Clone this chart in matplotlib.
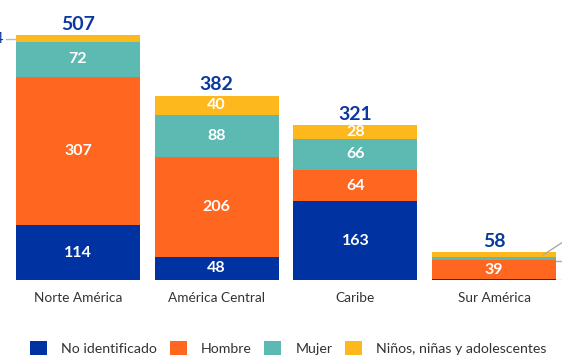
import numpy as np
import matplotlib.pyplot as plt
from matplotlib.patches import Patch

plt.rcParams['font.family'] = ['Lato', 'DejaVu Sans']

regiones = ['Norte América', 'América Central', 'Caribe', 'Sur América']
series = ['No identificado', 'Hombre', 'Mujer', 'Niños, niñas y adolescentes']
no_identificado = [114, 48, 163, 2]
hombre = [307, 206, 64, 39]
mujer = [72, 88, 66, 6]
ninos = [14, 40, 28, 11]
totales = [507, 382, 321, 58]

colores = ['#0033A1', '#FF6720', '#5DBAB2', '#FDB81E']
azul_txt = '#0A3A9E'

fig = plt.figure(figsize=(5.62, 3.55), dpi=100)
ax = fig.add_axes([0, 0.211, 1, 0.789])

x = np.arange(len(regiones))
ancho = 0.893
base = np.zeros(len(regiones))
for vals, col in zip([no_identificado, hombre, mujer, ninos], colores):
    vals = np.array(vals, dtype=float)
    ax.bar(x, vals, ancho, bottom=base, color=col, linewidth=0)
    for i, v in enumerate(vals):
        # small segments are labelled outside the bar
        if v >= 20:
            ax.text(x[i], base[i] + v / 2, f'{int(v)}', ha='center', va='center',
                    color='white', fontsize=11.5, fontweight='bold')
    base += vals

for i, t in enumerate(totales):
    ax.text(x[i], t + 5, str(t), ha='center', va='bottom', color=azul_txt,
            fontsize=14, fontweight='bold')

# leader lines for thin segments
y14 = no_identificado[0] + hombre[0] + mujer[0] + ninos[0] / 2
ax.plot([-0.522, -0.447], [y14, y14], color='#bbbbbb', lw=1, clip_on=False)
ax.text(-0.532, y14, str(ninos[0]), ha='right', va='center', color=azul_txt,
        fontsize=11.5, clip_on=False)

b = x[3] + ancho / 2
y_n = no_identificado[3] + hombre[3] + mujer[3] + ninos[3] / 2
y_m = no_identificado[3] + hombre[3] + mujer[3] / 2
y_h = no_identificado[3] / 2
ax.plot([b - 0.09, 3.49], [y_n, y_n + 25], color='#aaaaaa', lw=1)
ax.plot([b + 0.0, 3.49], [y_m - 4, y_m - 4], color='#aaaaaa', lw=1)
ax.plot([b + 0.0, 3.49], [y_h, y_h], color='#aaaaaa', lw=1)

ax.set_xlim(-0.562, 3.49)
ax.set_ylim(0, 579.7)
ax.axis('off')

for i, r in enumerate(regiones):
    ax.text(x[i], -38, r, ha='center', va='center', fontsize=9.8, color='#333333')

handles = [Patch(facecolor=c, edgecolor='none') for c in colores]
fig.legend(handles, series, loc='center', bbox_to_anchor=(0.513, 0.018), ncol=4,
           frameon=False, fontsize=10.2, handlelength=1.2, handleheight=1.2,
           columnspacing=0.9, handletextpad=1.0, labelcolor='#333333')

fig.savefig('out.png', dpi=100)
